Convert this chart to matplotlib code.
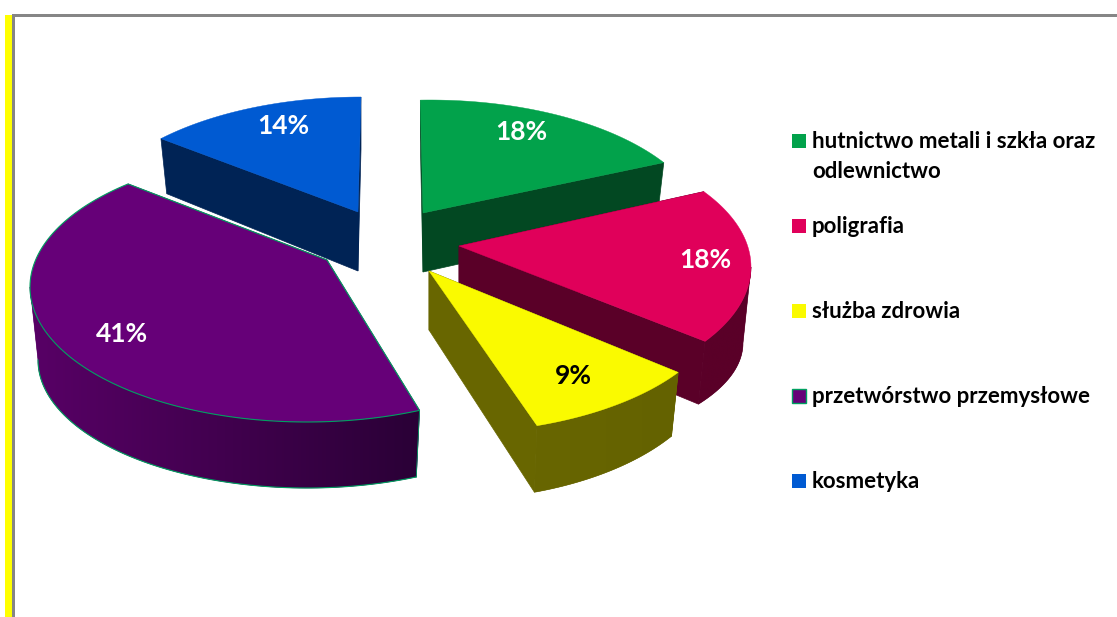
import numpy as np
import matplotlib
matplotlib.use("Agg")
import matplotlib.pyplot as plt
from matplotlib.colors import to_rgb
from matplotlib.patches import Polygon, Rectangle

plt.rcParams["font.family"] = ["Lato", "DejaVu Sans"]

categories = ["hutnictwo metali i szkła oraz\nodlewnictwo", "poligrafia", "służba zdrowia",
              "przetwórstwo przemysłowe", "kosmetyka"]
shares = [18, 18, 9, 41, 14]

top_colors = ["#02A24B", "#E0005A", "#FAFA00", "#660078", "#005AD2"]
side_left = ["#024822", "#5A0028", "#686600", "#580066", "#002355"]
side_right = ["#024822", "#5A0028", "#646200", "#2A0036", "#002355"]
label_colors = ["white", "white", "black", "white", "white"]
edge_colors = [None, None, None, "#00A060", None]

# layout of the exploded slices, in pixels
rim_centre = [(430, 235), (474, 267), (447, 298), (307, 287), (361, 232)]
apex_offset = [(-7, -22), (-15, -21), (-18, -27), (20, -27), (-3, -20)]
bottom_dy = [60, 76, 60, 73, 62]
bottom_ry = [140, 111, 142, 128, 145]
start_fix = [-2, -1.5, 0, -3.5, -2]
end_fix = [0, 0, 1.5, 4, 0]
label_pos = [(521, 132), (705, 260), (573, 376), (122, 334), (283, 126)]
legend_y = [141, 226, 311, 396, 481]
RX, RY, RX_BOTTOM, APEX_DEPTH = 277, 135, 269, 59
WARP = 8  # perspective squeezes the angles a bit


def warp(deg):
    return deg - WARP * np.sin(np.radians(deg))


def rim(i, deg, bottom=False):
    a = np.radians(deg)
    ex, ey = rim_centre[i]
    if bottom:
        return np.c_[ex + RX_BOTTOM * np.sin(a), ey + bottom_dy[i] - bottom_ry[i] * np.cos(a)]
    return np.c_[ex + RX * np.sin(a), ey - RY * np.cos(a)]


fig = plt.figure(figsize=(11.17, 6.17), dpi=100)
ax = fig.add_axes([0, 0, 1, 1])
ax.axis("off")

# frame
ax.add_patch(Rectangle((5, 15), 7, 602, fc="#FFFF00", ec="none"))
ax.add_patch(Rectangle((12, 14), 2.5, 603, fc="#868686", ec="none"))
ax.add_patch(Rectangle((12, 14), 1105, 2.5, fc="#868686", ec="none"))

edges = np.concatenate([[0], np.cumsum(shares)]) * 3.6
for n, i in enumerate([4, 3, 0, 1, 2]):
    z = 10 + n * 10
    start = warp(edges[i]) + start_fix[i]
    end = warp(edges[i + 1]) + end_fix[i]
    ang = np.linspace(start, end, 120)
    top = rim(i, ang)
    apex = np.array(rim_centre[i]) + np.array(apex_offset[i])
    low_apex = apex + [0, APEX_DEPTH]
    low = rim(i, ang, True)

    # cut faces, far one first
    faces = [[apex, top[0], low[0], low_apex], [apex, top[-1], low[-1], low_apex]]
    faces.sort(key=lambda f: np.mean(np.array(f)[:, 1]))
    for f in faces:
        ax.add_patch(Polygon(f, fc=side_left[i], ec=side_left[i], lw=0.5, zorder=z))

    # outer wall, only the part that faces us
    w0 = max(start, 90)
    w1 = min(end, 270)
    if w1 > w0:
        wall = np.linspace(w0, w1, 90)
        t, b = rim(i, wall), rim(i, wall, True)
        outline = np.vstack([t, b[::-1]])
        patch = Polygon(outline, fc=side_left[i], ec=side_left[i], lw=0.4, zorder=z + 1)
        ax.add_patch(patch)
        c0, c1 = np.array(to_rgb(side_left[i])), np.array(to_rgb(side_right[i]))
        grad = np.linspace(c0, c1, 256)[None, :, :]
        x0, x1 = outline[:, 0].min(), outline[:, 0].max()
        y0, y1 = outline[:, 1].min(), outline[:, 1].max()
        im = ax.imshow(grad, extent=(x0, x1, y1, y0), aspect="auto", zorder=z + 2, interpolation="bilinear")
        im.set_clip_path(patch)
        if edge_colors[i]:
            ax.plot(b[:, 0], b[:, 1], color=edge_colors[i], lw=0.8, zorder=z + 3)
            ax.plot([t[0, 0], b[0, 0]], [t[0, 1], b[0, 1]], color=edge_colors[i], lw=0.6, zorder=z + 3)

    ec = edge_colors[i] or top_colors[i]
    ax.add_patch(Polygon(np.vstack([apex, top]), fc=top_colors[i], ec=ec, lw=0.8 if edge_colors[i] else 0.3, zorder=z + 4))

    ax.text(label_pos[i][0], label_pos[i][1], f"{shares[i]}%", color=label_colors[i], fontsize=19,
            fontweight="bold", ha="center", va="center", zorder=100)

    # legend
    ax.add_patch(Rectangle((792, legend_y[i] - 7), 14, 14, fc=top_colors[i], ec=ec, lw=1 if edge_colors[i] else 0))
    ax.text(812, legend_y[i] - 10, categories[i], fontsize=16, fontweight="bold", color="#000000",
            ha="left", va="top", linespacing=1.55)

ax.set_xlim(0, 1117)
ax.set_ylim(617, 0)
fig.savefig("out.png", dpi=100)
